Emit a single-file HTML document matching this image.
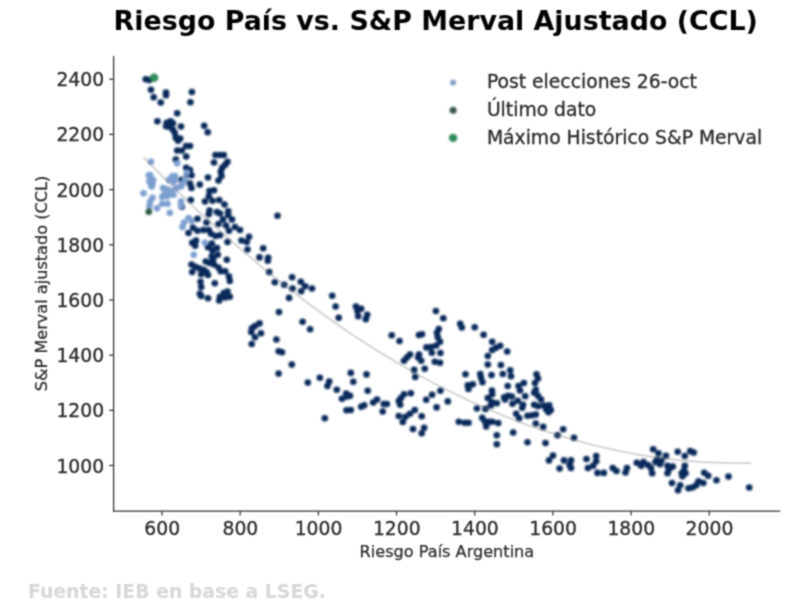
<!DOCTYPE html>
<html lang="es">
<head>
<meta charset="utf-8">
<title>Riesgo País vs. S&amp;P Merval Ajustado (CCL)</title>
<style>
html,body{margin:0;padding:0;background:#fff;}
body{width:800px;height:610px;overflow:hidden;font-family:"DejaVu Sans","Liberation Sans",sans-serif;}
svg{display:block;}
.soft{filter:url(#soft);}
.dots{filter:blur(0.8px);}
.softt{filter:url(#soft);}
text{font-family:"DejaVu Sans","Liberation Sans",sans-serif;}
.tick{font-size:18.75px;fill:#2b2b2b;stroke:#2b2b2b;stroke-width:0.3px;}
.lab{font-size:16.12px;fill:#2b2b2b;stroke:#2b2b2b;stroke-width:0.25px;}
.leg{font-size:18.76px;fill:#2b2b2b;stroke:#2b2b2b;stroke-width:0.3px;}
.title{font-size:26.87px;font-weight:bold;fill:#000;}
.src{font-size:18.83px;font-weight:bold;fill:#d7d7d7;}
</style>
</head>
<body>
<svg width="800" height="610" viewBox="0 0 800 610">
<defs><filter id="soft" x="0" y="0" width="800" height="610" filterUnits="userSpaceOnUse" color-interpolation-filters="sRGB"><feConvolveMatrix order="3" kernelMatrix="0.0439 0.1217 0.0439 0.1217 0.3377 0.1217 0.0439 0.1217 0.0439" edgeMode="duplicate"/></filter></defs>
<rect width="800" height="610" fill="#ffffff"/>
<g class="softt">
<text class="title" x="435.7" y="30.0" text-anchor="middle">Riesgo País vs. S&amp;P Merval Ajustado (CCL)</text>
</g>
<g class="dots">
<g fill="#08295a">
<circle cx="145.8" cy="79.2" r="3.3"/><circle cx="149.2" cy="80.0" r="3.3"/><circle cx="151.0" cy="89.8" r="3.3"/><circle cx="153.7" cy="97.2" r="3.3"/><circle cx="166.0" cy="92.5" r="3.3"/><circle cx="166.0" cy="95.3" r="3.3"/><circle cx="160.8" cy="102.5" r="3.3"/><circle cx="191.9" cy="92.0" r="3.3"/><circle cx="190.4" cy="102.2" r="3.3"/><circle cx="177.2" cy="113.3" r="3.3"/><circle cx="157.4" cy="121.2" r="3.3"/><circle cx="166.8" cy="122.8" r="3.3"/><circle cx="170.5" cy="121.2" r="3.3"/><circle cx="169.3" cy="126.8" r="3.3"/><circle cx="172.8" cy="129.5" r="3.3"/><circle cx="181.0" cy="126.5" r="3.3"/><circle cx="204.2" cy="125.8" r="3.3"/><circle cx="207.7" cy="132.2" r="3.3"/><circle cx="175.8" cy="137.8" r="3.3"/><circle cx="180.2" cy="138.5" r="3.3"/><circle cx="178.0" cy="140.8" r="3.3"/><circle cx="186.2" cy="146.0" r="3.3"/><circle cx="190.0" cy="146.0" r="3.3"/><circle cx="177.2" cy="150.5" r="3.3"/><circle cx="175.8" cy="159.5" r="3.3"/><circle cx="186.2" cy="156.5" r="3.3"/><circle cx="181.8" cy="150.5" r="3.3"/><circle cx="186.2" cy="167.8" r="3.3"/><circle cx="190.0" cy="170.0" r="3.3"/><circle cx="187.0" cy="173.8" r="3.3"/><circle cx="191.5" cy="175.2" r="3.3"/><circle cx="181.8" cy="179.8" r="3.3"/><circle cx="190.0" cy="183.5" r="3.3"/><circle cx="191.5" cy="188.0" r="3.3"/><circle cx="199.8" cy="184.6" r="3.3"/><circle cx="215.5" cy="155.0" r="3.3"/><circle cx="220.0" cy="155.0" r="3.3"/><circle cx="223.8" cy="155.0" r="3.3"/><circle cx="214.0" cy="162.5" r="3.3"/><circle cx="227.5" cy="161.8" r="3.3"/><circle cx="225.2" cy="164.8" r="3.3"/><circle cx="222.2" cy="167.8" r="3.3"/><circle cx="220.8" cy="171.5" r="3.3"/><circle cx="221.5" cy="176.0" r="3.3"/><circle cx="218.5" cy="180.5" r="3.3"/><circle cx="208.0" cy="177.5" r="3.3"/><circle cx="209.5" cy="191.0" r="3.3"/><circle cx="214.0" cy="190.2" r="3.3"/><circle cx="208.8" cy="196.2" r="3.3"/><circle cx="205.0" cy="201.5" r="3.3"/><circle cx="212.5" cy="200.8" r="3.3"/><circle cx="219.2" cy="200.0" r="3.3"/><circle cx="224.5" cy="204.5" r="3.3"/><circle cx="190.8" cy="200.0" r="3.3"/><circle cx="209.5" cy="210.5" r="3.3"/><circle cx="208.8" cy="214.2" r="3.3"/><circle cx="217.0" cy="212.0" r="3.3"/><circle cx="220.0" cy="213.5" r="3.3"/><circle cx="228.2" cy="211.2" r="3.3"/><circle cx="228.2" cy="215.0" r="3.3"/><circle cx="232.0" cy="219.5" r="3.3"/><circle cx="223.0" cy="219.5" r="3.3"/><circle cx="218.5" cy="224.0" r="3.3"/><circle cx="226.0" cy="225.5" r="3.3"/><circle cx="235.0" cy="227.0" r="3.3"/><circle cx="206.5" cy="222.5" r="3.3"/><circle cx="197.5" cy="218.8" r="3.3"/><circle cx="181.8" cy="206.8" r="3.3"/><circle cx="166.1" cy="126.2" r="3.3"/><circle cx="172.9" cy="123.2" r="3.3"/><circle cx="174.8" cy="133.0" r="3.3"/><circle cx="188.5" cy="233.0" r="3.3"/><circle cx="193.0" cy="227.8" r="3.3"/><circle cx="197.5" cy="230.8" r="3.3"/><circle cx="203.5" cy="230.0" r="3.3"/><circle cx="208.8" cy="230.0" r="3.3"/><circle cx="211.0" cy="233.8" r="3.3"/><circle cx="215.5" cy="236.0" r="3.3"/><circle cx="220.0" cy="235.2" r="3.3"/><circle cx="227.5" cy="242.0" r="3.3"/><circle cx="229.0" cy="230.8" r="3.3"/><circle cx="192.2" cy="242.8" r="3.3"/><circle cx="196.0" cy="240.5" r="3.3"/><circle cx="195.2" cy="245.8" r="3.3"/><circle cx="211.8" cy="243.5" r="3.3"/><circle cx="208.0" cy="247.2" r="3.3"/><circle cx="212.5" cy="250.2" r="3.3"/><circle cx="217.0" cy="248.0" r="3.3"/><circle cx="217.8" cy="254.8" r="3.3"/><circle cx="211.8" cy="256.2" r="3.3"/><circle cx="213.2" cy="259.2" r="3.3"/><circle cx="205.8" cy="261.5" r="3.3"/><circle cx="209.5" cy="263.0" r="3.3"/><circle cx="214.0" cy="264.5" r="3.3"/><circle cx="218.5" cy="267.5" r="3.3"/><circle cx="226.8" cy="259.7" r="3.3"/><circle cx="191.5" cy="264.5" r="3.3"/><circle cx="195.2" cy="266.8" r="3.3"/><circle cx="192.2" cy="272.0" r="3.3"/><circle cx="199.0" cy="268.2" r="3.3"/><circle cx="203.5" cy="269.8" r="3.3"/><circle cx="201.2" cy="274.2" r="3.3"/><circle cx="208.0" cy="275.0" r="3.3"/><circle cx="206.5" cy="272.0" r="3.3"/><circle cx="220.8" cy="271.2" r="3.3"/><circle cx="225.2" cy="271.2" r="3.3"/><circle cx="229.0" cy="276.5" r="3.3"/><circle cx="229.8" cy="281.0" r="3.3"/><circle cx="200.5" cy="281.8" r="3.3"/><circle cx="201.2" cy="287.0" r="3.3"/><circle cx="214.8" cy="283.2" r="3.3"/><circle cx="199.8" cy="293.8" r="3.3"/><circle cx="201.2" cy="296.0" r="3.3"/><circle cx="208.0" cy="298.2" r="3.3"/><circle cx="220.0" cy="296.8" r="3.3"/><circle cx="223.8" cy="293.0" r="3.3"/><circle cx="227.5" cy="291.5" r="3.3"/><circle cx="229.8" cy="296.8" r="3.3"/><circle cx="219.2" cy="300.5" r="3.3"/><circle cx="225.2" cy="297.5" r="3.3"/><circle cx="277.5" cy="215.8" r="3.3"/><circle cx="240.0" cy="230.0" r="3.3"/><circle cx="249.0" cy="236.8" r="3.3"/><circle cx="241.5" cy="240.5" r="3.3"/><circle cx="246.8" cy="242.0" r="3.3"/><circle cx="247.5" cy="249.5" r="3.3"/><circle cx="263.2" cy="248.3" r="3.3"/><circle cx="259.5" cy="257.4" r="3.3"/><circle cx="268.2" cy="257.8" r="3.3"/><circle cx="267.8" cy="260.8" r="3.3"/><circle cx="269.2" cy="272.0" r="3.3"/><circle cx="292.1" cy="277.2" r="3.3"/><circle cx="274.8" cy="282.2" r="3.3"/><circle cx="284.2" cy="284.8" r="3.3"/><circle cx="300.8" cy="281.8" r="3.3"/><circle cx="305.2" cy="286.2" r="3.3"/><circle cx="312.0" cy="288.5" r="3.3"/><circle cx="292.5" cy="288.5" r="3.3"/><circle cx="301.2" cy="291.2" r="3.3"/><circle cx="289.1" cy="297.9" r="3.3"/><circle cx="332.2" cy="295.7" r="3.3"/><circle cx="335.6" cy="306.5" r="3.3"/><circle cx="338.7" cy="317.8" r="3.3"/><circle cx="279.0" cy="312.1" r="3.3"/><circle cx="302.6" cy="321.8" r="3.3"/><circle cx="310.1" cy="329.3" r="3.3"/><circle cx="259.5" cy="323.4" r="3.3"/><circle cx="255.0" cy="326.0" r="3.3"/><circle cx="252.0" cy="328.2" r="3.3"/><circle cx="251.2" cy="332.0" r="3.3"/><circle cx="261.0" cy="333.2" r="3.3"/><circle cx="255.0" cy="337.2" r="3.3"/><circle cx="251.7" cy="344.0" r="3.3"/><circle cx="276.4" cy="339.5" r="3.3"/><circle cx="278.7" cy="351.2" r="3.3"/><circle cx="282.0" cy="352.2" r="3.3"/><circle cx="291.8" cy="364.6" r="3.3"/><circle cx="278.6" cy="373.6" r="3.3"/><circle cx="307.8" cy="382.6" r="3.3"/><circle cx="319.8" cy="377.8" r="3.3"/><circle cx="329.2" cy="381.5" r="3.3"/><circle cx="327.4" cy="386.0" r="3.3"/><circle cx="336.8" cy="389.8" r="3.3"/><circle cx="346.2" cy="393.5" r="3.3"/><circle cx="347.2" cy="396.5" r="3.3"/><circle cx="342.0" cy="398.8" r="3.3"/><circle cx="346.5" cy="410.3" r="3.3"/><circle cx="324.8" cy="418.2" r="3.3"/><circle cx="356.0" cy="306.5" r="3.3"/><circle cx="357.5" cy="311.0" r="3.3"/><circle cx="358.2" cy="316.2" r="3.3"/><circle cx="361.2" cy="308.8" r="3.3"/><circle cx="367.2" cy="314.8" r="3.3"/><circle cx="365.8" cy="319.2" r="3.3"/><circle cx="435.9" cy="311.0" r="3.3"/><circle cx="443.3" cy="318.2" r="3.3"/><circle cx="460.2" cy="323.8" r="3.3"/><circle cx="461.8" cy="327.5" r="3.3"/><circle cx="391.7" cy="335.3" r="3.3"/><circle cx="399.5" cy="341.0" r="3.3"/><circle cx="419.0" cy="335.0" r="3.3"/><circle cx="422.0" cy="334.2" r="3.3"/><circle cx="438.8" cy="329.0" r="3.3"/><circle cx="437.0" cy="332.8" r="3.3"/><circle cx="437.8" cy="337.2" r="3.3"/><circle cx="440.0" cy="341.8" r="3.3"/><circle cx="436.2" cy="345.5" r="3.3"/><circle cx="431.0" cy="347.0" r="3.3"/><circle cx="426.5" cy="347.4" r="3.3"/><circle cx="431.8" cy="352.7" r="3.3"/><circle cx="440.4" cy="353.0" r="3.3"/><circle cx="410.0" cy="354.5" r="3.3"/><circle cx="407.0" cy="357.5" r="3.3"/><circle cx="404.0" cy="360.8" r="3.3"/><circle cx="419.0" cy="354.5" r="3.3"/><circle cx="418.2" cy="357.5" r="3.3"/><circle cx="421.2" cy="360.8" r="3.3"/><circle cx="434.8" cy="361.7" r="3.3"/><circle cx="440.0" cy="362.8" r="3.3"/><circle cx="350.8" cy="372.9" r="3.3"/><circle cx="353.3" cy="381.8" r="3.3"/><circle cx="350.0" cy="395.8" r="3.3"/><circle cx="350.8" cy="410.0" r="3.3"/><circle cx="366.5" cy="374.4" r="3.3"/><circle cx="367.7" cy="390.8" r="3.3"/><circle cx="361.2" cy="406.7" r="3.3"/><circle cx="364.2" cy="405.2" r="3.3"/><circle cx="373.2" cy="402.5" r="3.3"/><circle cx="377.0" cy="399.5" r="3.3"/><circle cx="383.8" cy="404.0" r="3.3"/><circle cx="386.8" cy="404.0" r="3.3"/><circle cx="382.7" cy="411.5" r="3.3"/><circle cx="414.2" cy="369.9" r="3.3"/><circle cx="415.2" cy="377.0" r="3.3"/><circle cx="424.7" cy="368.8" r="3.3"/><circle cx="465.5" cy="374.3" r="3.3"/><circle cx="467.8" cy="385.2" r="3.3"/><circle cx="468.5" cy="389.0" r="3.3"/><circle cx="410.8" cy="393.2" r="3.3"/><circle cx="404.0" cy="394.2" r="3.3"/><circle cx="401.0" cy="398.0" r="3.3"/><circle cx="398.8" cy="401.0" r="3.3"/><circle cx="400.2" cy="404.8" r="3.3"/><circle cx="440.4" cy="390.8" r="3.3"/><circle cx="432.1" cy="394.7" r="3.3"/><circle cx="426.2" cy="399.8" r="3.3"/><circle cx="447.8" cy="401.4" r="3.3"/><circle cx="436.6" cy="407.4" r="3.3"/><circle cx="414.8" cy="410.0" r="3.3"/><circle cx="410.0" cy="413.8" r="3.3"/><circle cx="405.5" cy="416.8" r="3.3"/><circle cx="398.8" cy="416.0" r="3.3"/><circle cx="402.8" cy="422.0" r="3.3"/><circle cx="421.7" cy="416.3" r="3.3"/><circle cx="413.0" cy="429.1" r="3.3"/><circle cx="424.2" cy="427.7" r="3.3"/><circle cx="421.7" cy="433.2" r="3.3"/><circle cx="458.8" cy="421.7" r="3.3"/><circle cx="464.8" cy="422.8" r="3.3"/><circle cx="468.5" cy="422.8" r="3.3"/><circle cx="474.7" cy="327.2" r="3.3"/><circle cx="483.6" cy="334.7" r="3.3"/><circle cx="492.2" cy="341.8" r="3.3"/><circle cx="492.2" cy="350.0" r="3.3"/><circle cx="496.0" cy="347.8" r="3.3"/><circle cx="500.2" cy="345.8" r="3.3"/><circle cx="507.2" cy="351.5" r="3.3"/><circle cx="487.8" cy="356.0" r="3.3"/><circle cx="487.8" cy="364.6" r="3.3"/><circle cx="500.9" cy="365.0" r="3.3"/><circle cx="510.2" cy="370.2" r="3.3"/><circle cx="480.2" cy="374.0" r="3.3"/><circle cx="491.5" cy="375.1" r="3.3"/><circle cx="502.8" cy="374.0" r="3.3"/><circle cx="511.0" cy="376.2" r="3.3"/><circle cx="536.5" cy="374.3" r="3.3"/><circle cx="481.0" cy="377.8" r="3.3"/><circle cx="538.0" cy="378.5" r="3.3"/><circle cx="472.8" cy="384.2" r="3.3"/><circle cx="482.5" cy="382.2" r="3.3"/><circle cx="507.7" cy="386.0" r="3.3"/><circle cx="523.8" cy="383.0" r="3.3"/><circle cx="518.5" cy="386.0" r="3.3"/><circle cx="520.0" cy="390.5" r="3.3"/><circle cx="535.0" cy="383.0" r="3.3"/><circle cx="535.8" cy="389.8" r="3.3"/><circle cx="534.2" cy="392.8" r="3.3"/><circle cx="538.0" cy="395.8" r="3.3"/><circle cx="541.0" cy="399.5" r="3.3"/><circle cx="525.2" cy="396.2" r="3.3"/><circle cx="491.9" cy="390.5" r="3.3"/><circle cx="492.2" cy="394.2" r="3.3"/><circle cx="487.8" cy="398.0" r="3.3"/><circle cx="491.5" cy="401.8" r="3.3"/><circle cx="496.8" cy="403.2" r="3.3"/><circle cx="490.8" cy="405.5" r="3.3"/><circle cx="504.2" cy="397.2" r="3.3"/><circle cx="508.0" cy="395.8" r="3.3"/><circle cx="511.8" cy="396.5" r="3.3"/><circle cx="505.0" cy="399.5" r="3.3"/><circle cx="517.8" cy="400.7" r="3.3"/><circle cx="512.5" cy="403.7" r="3.3"/><circle cx="523.0" cy="404.8" r="3.3"/><circle cx="522.2" cy="407.8" r="3.3"/><circle cx="534.2" cy="404.8" r="3.3"/><circle cx="538.0" cy="406.2" r="3.3"/><circle cx="544.0" cy="405.5" r="3.3"/><circle cx="549.2" cy="405.2" r="3.3"/><circle cx="546.2" cy="409.2" r="3.3"/><circle cx="550.8" cy="410.0" r="3.3"/><circle cx="548.5" cy="412.2" r="3.3"/><circle cx="476.9" cy="408.5" r="3.3"/><circle cx="485.5" cy="408.9" r="3.3"/><circle cx="516.2" cy="413.8" r="3.3"/><circle cx="519.2" cy="418.2" r="3.3"/><circle cx="527.5" cy="415.7" r="3.3"/><circle cx="532.0" cy="415.2" r="3.3"/><circle cx="535.8" cy="414.5" r="3.3"/><circle cx="482.2" cy="417.8" r="3.3"/><circle cx="484.8" cy="421.2" r="3.3"/><circle cx="489.2" cy="421.7" r="3.3"/><circle cx="492.2" cy="421.7" r="3.3"/><circle cx="498.2" cy="423.1" r="3.3"/><circle cx="486.2" cy="426.5" r="3.3"/><circle cx="535.8" cy="423.5" r="3.3"/><circle cx="543.2" cy="426.9" r="3.3"/><circle cx="563.2" cy="429.2" r="3.3"/><circle cx="557.5" cy="435.2" r="3.3"/><circle cx="574.0" cy="437.8" r="3.3"/><circle cx="496.8" cy="435.2" r="3.3"/><circle cx="513.2" cy="432.5" r="3.3"/><circle cx="496.8" cy="444.2" r="3.3"/><circle cx="527.5" cy="442.2" r="3.3"/><circle cx="545.5" cy="443.0" r="3.3"/><circle cx="553.0" cy="455.6" r="3.3"/><circle cx="549.0" cy="460.4" r="3.3"/><circle cx="564.0" cy="460.4" r="3.3"/><circle cx="571.0" cy="460.4" r="3.3"/><circle cx="569.6" cy="465.0" r="3.3"/><circle cx="559.6" cy="468.6" r="3.3"/><circle cx="571.0" cy="468.0" r="3.3"/><circle cx="586.5" cy="459.0" r="3.3"/><circle cx="596.2" cy="456.0" r="3.3"/><circle cx="596.2" cy="461.2" r="3.3"/><circle cx="588.0" cy="468.0" r="3.3"/><circle cx="593.2" cy="465.8" r="3.3"/><circle cx="597.5" cy="472.9" r="3.3"/><circle cx="603.8" cy="472.9" r="3.3"/><circle cx="612.8" cy="468.0" r="3.3"/><circle cx="616.5" cy="471.0" r="3.3"/><circle cx="627.0" cy="468.0" r="3.3"/><circle cx="625.5" cy="472.5" r="3.3"/><circle cx="636.8" cy="462.8" r="3.3"/><circle cx="643.5" cy="462.0" r="3.3"/><circle cx="641.2" cy="465.8" r="3.3"/><circle cx="648.0" cy="465.0" r="3.3"/><circle cx="651.0" cy="468.0" r="3.3"/><circle cx="652.2" cy="473.2" r="3.3"/><circle cx="653.2" cy="449.2" r="3.3"/><circle cx="658.5" cy="453.3" r="3.3"/><circle cx="666.0" cy="455.7" r="3.3"/><circle cx="657.0" cy="459.8" r="3.3"/><circle cx="661.5" cy="460.5" r="3.3"/><circle cx="660.0" cy="464.2" r="3.3"/><circle cx="655.5" cy="462.0" r="3.3"/><circle cx="667.5" cy="465.8" r="3.3"/><circle cx="672.8" cy="466.5" r="3.3"/><circle cx="669.0" cy="469.5" r="3.3"/><circle cx="667.5" cy="473.2" r="3.3"/><circle cx="677.7" cy="451.8" r="3.3"/><circle cx="684.8" cy="456.0" r="3.3"/><circle cx="684.8" cy="465.8" r="3.3"/><circle cx="684.0" cy="470.2" r="3.3"/><circle cx="681.8" cy="473.2" r="3.3"/><circle cx="685.5" cy="473.2" r="3.3"/><circle cx="682.5" cy="476.2" r="3.3"/><circle cx="672.0" cy="483.0" r="3.3"/><circle cx="680.2" cy="485.2" r="3.3"/><circle cx="678.0" cy="490.2" r="3.3"/><circle cx="688.5" cy="488.2" r="3.3"/><circle cx="690.2" cy="451.1" r="3.3"/><circle cx="693.7" cy="452.6" r="3.3"/><circle cx="692.5" cy="487.5" r="3.3"/><circle cx="696.2" cy="485.2" r="3.3"/><circle cx="698.5" cy="481.2" r="3.3"/><circle cx="703.3" cy="483.0" r="3.3"/><circle cx="704.2" cy="472.8" r="3.3"/><circle cx="708.2" cy="475.8" r="3.3"/><circle cx="716.5" cy="480.3" r="3.3"/><circle cx="728.5" cy="476.6" r="3.3"/><circle cx="749.2" cy="487.5" r="3.3"/>
</g>
<g fill="#7c9fd0">
<circle cx="151.0" cy="161.8" r="3.3"/><circle cx="177.2" cy="163.2" r="3.3"/><circle cx="148.8" cy="175.2" r="3.3"/><circle cx="151.0" cy="178.2" r="3.3"/><circle cx="149.5" cy="181.2" r="3.3"/><circle cx="152.5" cy="183.5" r="3.3"/><circle cx="151.8" cy="186.5" r="3.3"/><circle cx="143.5" cy="193.2" r="3.3"/><circle cx="172.0" cy="176.8" r="3.3"/><circle cx="175.0" cy="176.0" r="3.3"/><circle cx="169.0" cy="179.8" r="3.3"/><circle cx="173.5" cy="182.0" r="3.3"/><circle cx="163.0" cy="188.0" r="3.3"/><circle cx="167.5" cy="189.5" r="3.3"/><circle cx="172.0" cy="191.0" r="3.3"/><circle cx="176.5" cy="188.0" r="3.3"/><circle cx="181.0" cy="186.5" r="3.3"/><circle cx="182.5" cy="183.5" r="3.3"/><circle cx="162.2" cy="197.0" r="3.3"/><circle cx="167.5" cy="196.2" r="3.3"/><circle cx="173.5" cy="194.8" r="3.3"/><circle cx="152.5" cy="197.8" r="3.3"/><circle cx="150.2" cy="201.5" r="3.3"/><circle cx="149.5" cy="206.0" r="3.3"/><circle cx="157.0" cy="208.2" r="3.3"/><circle cx="162.2" cy="203.8" r="3.3"/><circle cx="167.5" cy="203.8" r="3.3"/><circle cx="169.8" cy="212.8" r="3.3"/><circle cx="181.0" cy="201.5" r="3.3"/><circle cx="181.0" cy="206.0" r="3.3"/><circle cx="188.5" cy="218.0" r="3.3"/><circle cx="184.0" cy="222.5" r="3.3"/><circle cx="182.5" cy="227.0" r="3.3"/><circle cx="191.5" cy="221.0" r="3.3"/><circle cx="187.0" cy="172.5" r="3.3"/><circle cx="185.0" cy="179.5" r="3.3"/><circle cx="182.0" cy="184.5" r="3.3"/><circle cx="150.0" cy="175.0" r="3.3"/><circle cx="153.0" cy="180.0" r="3.3"/><circle cx="151.0" cy="185.0" r="3.3"/><circle cx="165.0" cy="189.0" r="3.3"/><circle cx="170.0" cy="192.0" r="3.3"/><circle cx="164.0" cy="195.0" r="3.3"/><circle cx="175.0" cy="180.0" r="3.3"/><circle cx="173.0" cy="176.0" r="3.3"/><circle cx="205.0" cy="242.8" r="3.3"/><circle cx="193.8" cy="254.8" r="3.3"/>
</g>
<circle cx="148.8" cy="211.7" r="3.3" fill="#2f5a45"/>
<circle cx="154.0" cy="77.8" r="4.3" fill="#2e8b57"/>
</g>
<g class="soft">
<polyline points="143.5,157.3 153.6,167.6 163.8,177.8 173.9,187.8 184.0,197.6 194.1,207.2 204.2,216.7 214.4,225.9 224.5,235.0 234.6,243.9 244.8,252.7 254.9,261.2 265.0,269.6 275.1,277.8 285.2,285.9 295.4,293.7 305.5,301.4 315.6,308.9 325.8,316.2 335.9,323.3 346.0,330.3 356.1,337.1 366.2,343.7 376.4,350.1 386.5,356.3 396.6,362.4 406.8,368.3 416.9,374.0 427.0,379.6 437.1,384.9 447.2,390.1 457.4,395.1 467.5,399.9 477.6,404.6 487.8,409.1 497.9,413.3 508.0,417.5 518.1,421.4 528.2,425.2 538.4,428.7 548.5,432.1 558.6,435.4 568.8,438.4 578.9,441.3 589.0,444.0 599.1,446.5 609.2,448.8 619.4,451.0 629.5,453.0 639.6,454.8 649.8,456.4 659.9,457.9 670.0,459.1 680.1,460.2 690.2,461.1 700.4,461.9 710.5,462.4 720.6,462.8 730.8,463.0 740.9,463.1 751.0,462.9" fill="none" stroke="#808080" stroke-width="2.2" stroke-opacity="0.3"/>
<g stroke="#333" stroke-width="1.25" fill="none">
<line x1="113.6" y1="56.0" x2="113.6" y2="511.7"/>
<line x1="113.0" y1="511.0" x2="780.2" y2="511.0"/>
<line x1="162.00" y1="511.0" x2="162.00" y2="515.5"/>
<line x1="240.18" y1="511.0" x2="240.18" y2="515.5"/>
<line x1="318.36" y1="511.0" x2="318.36" y2="515.5"/>
<line x1="396.54" y1="511.0" x2="396.54" y2="515.5"/>
<line x1="474.72" y1="511.0" x2="474.72" y2="515.5"/>
<line x1="552.90" y1="511.0" x2="552.90" y2="515.5"/>
<line x1="631.08" y1="511.0" x2="631.08" y2="515.5"/>
<line x1="709.26" y1="511.0" x2="709.26" y2="515.5"/>
<line x1="113.6" y1="465.50" x2="109.1" y2="465.50"/>
<line x1="113.6" y1="410.32" x2="109.1" y2="410.32"/>
<line x1="113.6" y1="355.14" x2="109.1" y2="355.14"/>
<line x1="113.6" y1="299.96" x2="109.1" y2="299.96"/>
<line x1="113.6" y1="244.78" x2="109.1" y2="244.78"/>
<line x1="113.6" y1="189.60" x2="109.1" y2="189.60"/>
<line x1="113.6" y1="134.42" x2="109.1" y2="134.42"/>
<line x1="113.6" y1="79.24" x2="109.1" y2="79.24"/>
</g>
</g>
<g class="softt">
<text class="tick" x="162.20" y="534.9" text-anchor="middle">600</text>
<text class="tick" x="240.38" y="534.9" text-anchor="middle">800</text>
<text class="tick" x="318.56" y="534.9" text-anchor="middle">1000</text>
<text class="tick" x="396.74" y="534.9" text-anchor="middle">1200</text>
<text class="tick" x="474.92" y="534.9" text-anchor="middle">1400</text>
<text class="tick" x="553.10" y="534.9" text-anchor="middle">1600</text>
<text class="tick" x="631.28" y="534.9" text-anchor="middle">1800</text>
<text class="tick" x="709.46" y="534.9" text-anchor="middle">2000</text>
<text class="tick" x="104.1" y="472.50" text-anchor="end">1000</text>
<text class="tick" x="104.1" y="417.32" text-anchor="end">1200</text>
<text class="tick" x="104.1" y="362.14" text-anchor="end">1400</text>
<text class="tick" x="104.1" y="306.96" text-anchor="end">1600</text>
<text class="tick" x="104.1" y="251.78" text-anchor="end">1800</text>
<text class="tick" x="104.1" y="196.60" text-anchor="end">2000</text>
<text class="tick" x="104.1" y="141.42" text-anchor="end">2200</text>
<text class="tick" x="104.1" y="86.24" text-anchor="end">2400</text>
<text class="lab" x="446.9" y="556.6" text-anchor="middle">Riesgo País Argentina</text>
<text class="lab" transform="translate(46.5,283.5) rotate(-90)" text-anchor="middle">S&amp;P Merval ajustado (CCL)</text>
</g>
<g class="dots">
<circle cx="453.1" cy="82.5" r="2.9" fill="#7f99c6"/>
<circle cx="453.1" cy="110.3" r="3.5" fill="#3a564d"/>
<circle cx="453.1" cy="137.9" r="4.2" fill="#2e8b57"/>
</g>
<g class="softt">
<text class="leg" x="486.9" y="88.4">Post elecciones 26-oct</text>
<text class="leg" x="486.9" y="116.2">Último dato</text>
<text class="leg" x="486.9" y="144">Máximo Histórico S&amp;P Merval</text>
<text class="src" x="28" y="597.5">Fuente: IEB en base a LSEG.</text>
</g>
</svg>
</body>
</html>
